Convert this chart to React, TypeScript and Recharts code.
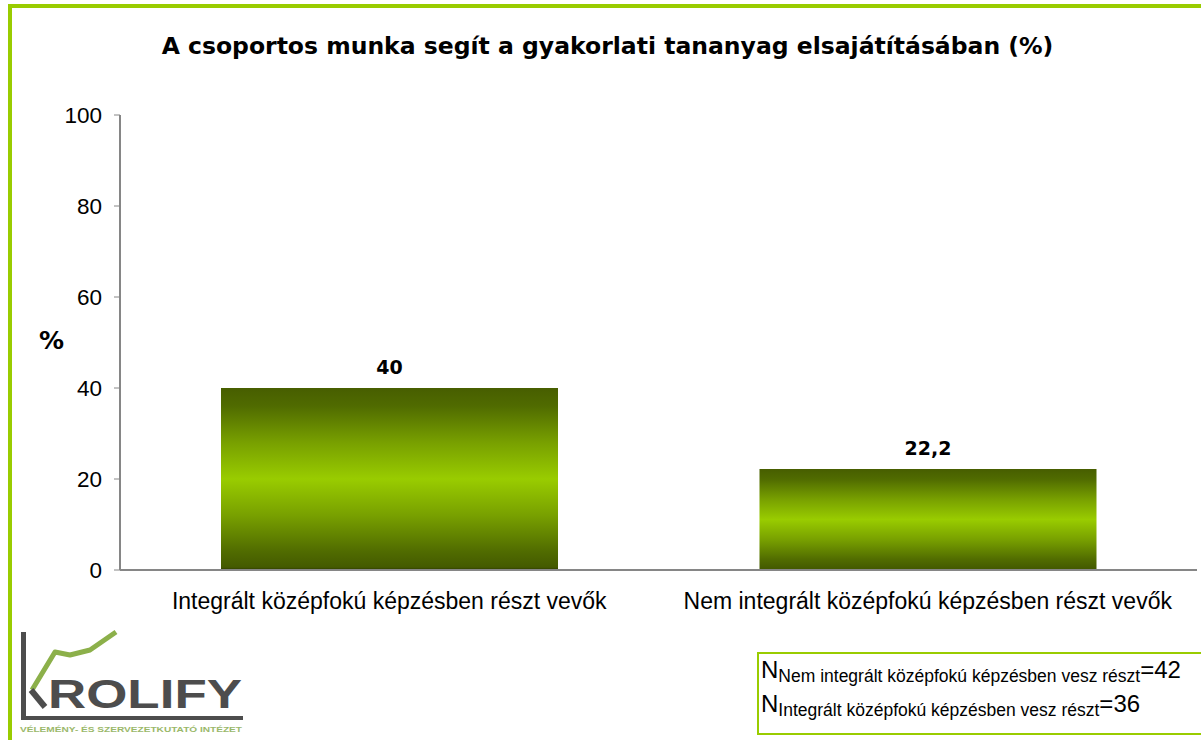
import { Bar, BarChart, LabelList, XAxis, YAxis } from 'recharts'

const categories = [
  'Integrált középfokú képzésben részt vevők',
  'Nem integrált középfokú képzésben részt vevők',
]
const values = [40, 22.2]
const yTicks = [0, 20, 40, 60, 80, 100]
const nLines = [
  { sub: 'Nem integrált középfokú képzésben vesz részt', n: 42 },
  { sub: 'Integrált középfokú képzésben vesz részt', n: 36 },
]

const GREEN = '#99cc00'
const AXIS = '#868686'
const ARIAL = '"Liberation Sans", Arial, sans-serif'
const VERDANA = '"DejaVu Sans", Verdana, sans-serif'

const data = categories.map((name, i) => ({ name, value: values[i] }))

function Logo() {
  return (
    <svg width={1201} height={740} style={{ position: 'absolute', left: 0, top: 0, pointerEvents: 'none' }}>
      <rect x={21} y={632} width={5} height={88} fill="#4d4d4d" />
      <rect x={21} y={716} width={222} height={4} fill="#4d4d4d" />
      <polyline
        points="32,690 55,652 70,655 90,650 116,632"
        fill="none"
        stroke="#8cb04a"
        strokeWidth={5}
        strokeLinejoin="round"
      />
      <line x1={31} y1={690} x2={45} y2={707} stroke="#4d4d4d" strokeWidth={6} />
      <text x={48} y={708} fontFamily={ARIAL} fontWeight="bold" fontSize={40} fill="#4d4d4d" textLength={194} lengthAdjust="spacingAndGlyphs">
        ROLIFY
      </text>
      <text x={20} y={732} fontFamily={ARIAL} fontWeight="bold" fontSize={8} fill="#9ab86a" textLength={222} lengthAdjust="spacingAndGlyphs">
        VÉLEMÉNY- ÉS SZERVEZETKUTATÓ INTÉZET
      </text>
    </svg>
  )
}

export default function App() {
  return (
    <div style={{ position: 'absolute', left: 0, top: 0, width: 1201, height: 740, background: '#fff', overflow: 'hidden' }}>
      <div
        style={{
          position: 'absolute',
          left: 8,
          top: 4,
          width: 1201,
          height: 740,
          borderTop: `4px solid ${GREEN}`,
          borderLeft: `4px solid ${GREEN}`,
        }}
      />
      <div
        style={{
          position: 'absolute',
          left: 0,
          top: 32,
          width: 1215,
          textAlign: 'center',
          fontFamily: VERDANA,
          fontWeight: 'bold',
          fontSize: 23.5,
          color: '#000',
        }}
      >
        A csoportos munka segít a gyakorlati tananyag elsajátításában (%)
      </div>
      <div
        style={{
          position: 'absolute',
          left: 39,
          top: 326,
          fontFamily: VERDANA,
          fontWeight: 'bold',
          fontSize: 25,
        }}
      >
        %
      </div>
      <div style={{ position: 'absolute', left: 0, top: 0 }}>
        <BarChart width={1201} height={740} data={data} margin={{ top: 115, right: 4, bottom: 130, left: 60 }}>
          <defs>
            <linearGradient id="barGrad" x1="0" y1="0" x2="0" y2="1">
              <stop offset="0" stopColor="#475e00" />
              <stop offset="0.1" stopColor="#506b00" />
              <stop offset="0.3" stopColor="#78a000" />
              <stop offset="0.5" stopColor="#99cc00" />
              <stop offset="0.7" stopColor="#78a000" />
              <stop offset="0.9" stopColor="#506b00" />
              <stop offset="0.985" stopColor="#445a00" />
              <stop offset="1" stopColor="#2c3800" />
            </linearGradient>
          </defs>
          <XAxis
            xAxisId="edges"
            type="number"
            domain={[0, 2]}
            ticks={[0, 1, 2]}
            tick={false}
            axisLine={false}
            tickLine={{ stroke: AXIS }}
            tickSize={5}
            height={0}
          />
          <XAxis
            dataKey="name"
            height={40}
            axisLine={{ stroke: AXIS, strokeWidth: 2 }}
            tickLine={false}
            tickSize={6}
            tickMargin={17}
            tick={{ fill: '#000', fontSize: 23, fontFamily: ARIAL }}
            interval={0}
          />
          <YAxis
            width={60}
            domain={[0, 100]}
            ticks={yTicks}
            axisLine={{ stroke: AXIS, strokeWidth: 2 }}
            tickLine={{ stroke: AXIS }}
            tickSize={6}
            tickMargin={12}
            tick={{ fill: '#000', fontSize: 22.5, fontFamily: ARIAL }}
          />
          <Bar dataKey="value" fill="url(#barGrad)" barSize={337} isAnimationActive={false}>
            <LabelList
              dataKey="value"
              position="top"
              offset={14}
              formatter={(v: any) => String(v).replace('.', ',')}
              style={{ fill: '#000', fontSize: 19, fontWeight: 'bold', fontFamily: VERDANA }}
            />
          </Bar>
        </BarChart>
      </div>
      <Logo />
      <div
        style={{
          position: 'absolute',
          left: 757,
          top: 652,
          width: 444,
          height: 79,
          border: `2px solid ${GREEN}`,
          fontFamily: ARIAL,
          color: '#000',
          boxSizing: 'content-box',
        }}
      >
        {nLines.map((l, i) => (
          <div key={i} style={{ fontSize: 24, lineHeight: '27px', whiteSpace: 'nowrap', paddingLeft: 2, paddingTop: i === 0 ? 2 : 0 }}>
            N<sub style={{ fontSize: 17.5, verticalAlign: '-4px' }}>{l.sub}</sub>={l.n}
          </div>
        ))}
      </div>
    </div>
  )
}
